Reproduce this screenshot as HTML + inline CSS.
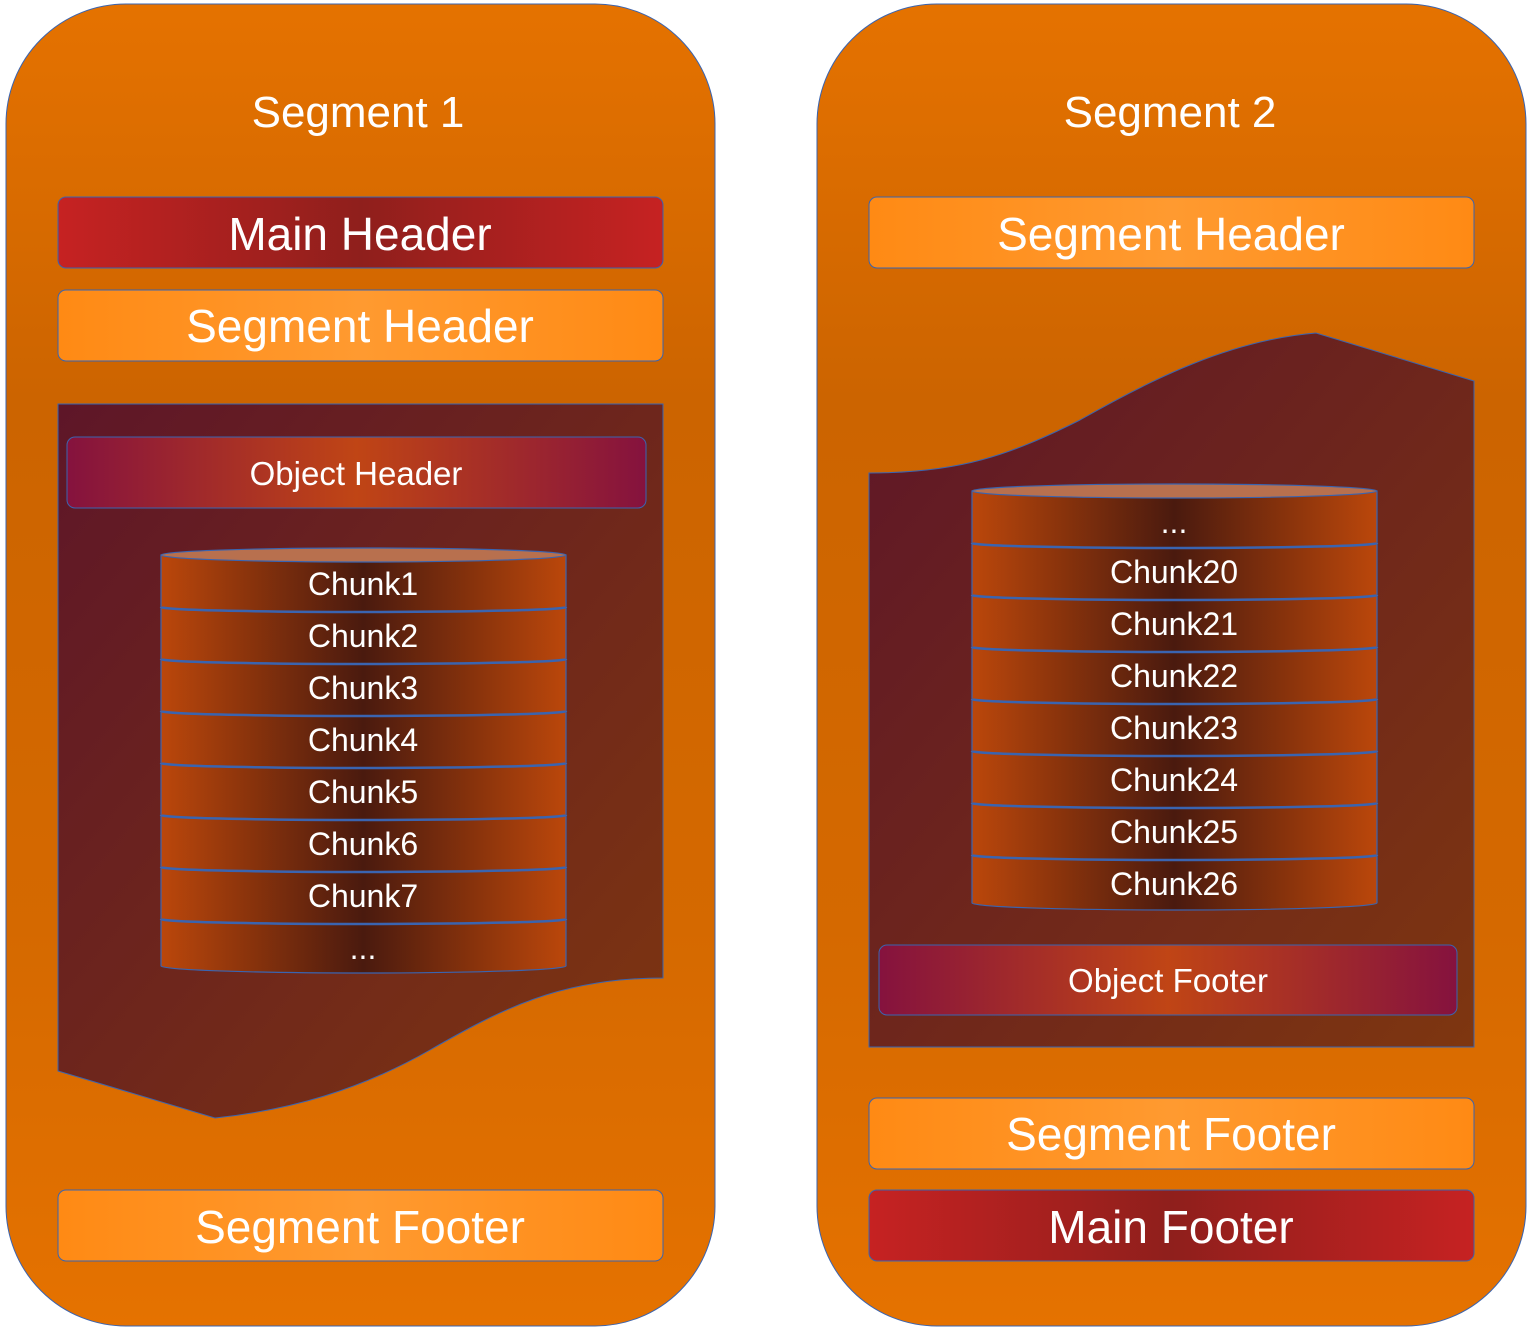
<!DOCTYPE html>
<html><head><meta charset="utf-8"><style>html,body{margin:0;padding:0;background:#fff}svg{display:block}text{font-family:"Liberation Sans","DejaVu Sans",sans-serif;fill:#fff;text-anchor:middle}</style></head>
<body>
<svg width="1531" height="1331" viewBox="0 0 1531 1331" xmlns="http://www.w3.org/2000/svg">
<defs>
<linearGradient id="seg" x1="0" y1="0" x2="0" y2="1"><stop offset="0" stop-color="#e57200"/><stop offset="0.3" stop-color="#cc6400"/><stop offset="0.7" stop-color="#d56900"/><stop offset="1" stop-color="#e57200"/></linearGradient>
<linearGradient id="mh" x1="0" x2="1"><stop offset="0" stop-color="#c62222"/><stop offset="0.5" stop-color="#8f1f1c"/><stop offset="1" stop-color="#c62222"/></linearGradient>
<linearGradient id="sh" x1="0" x2="1"><stop offset="0" stop-color="#ff8a14"/><stop offset="0.5" stop-color="#ff9a30"/><stop offset="1" stop-color="#ff8a14"/></linearGradient>
<linearGradient id="dk" x1="0" y1="0" x2="1" y2="1"><stop offset="0" stop-color="#5e1628"/><stop offset="1" stop-color="#7e3610"/></linearGradient>
<linearGradient id="oh" x1="0" x2="1"><stop offset="0" stop-color="#85123e"/><stop offset="0.5" stop-color="#c04515"/><stop offset="1" stop-color="#85123e"/></linearGradient>
<linearGradient id="cy" x1="0" x2="1"><stop offset="0" stop-color="#bb470b"/><stop offset="0.5" stop-color="#4a1a0e"/><stop offset="1" stop-color="#bb470b"/></linearGradient>
</defs>
<g stroke="#3a64b0" stroke-width="1">
<rect x="6" y="4" width="709" height="1322" rx="120" fill="url(#seg)"/>
<rect x="817" y="4" width="709" height="1322" rx="120" fill="url(#seg)"/>
<rect x="58" y="197" width="605" height="71" rx="8" fill="url(#mh)"/>
<rect x="58" y="290" width="605" height="71" rx="8" fill="url(#sh)"/>
<path d="M58 404 H663 V978 C560 978 500 1010 430 1050 C360 1090 290 1110 215 1118 L58 1071 Z" fill="url(#dk)"/>
<rect x="67" y="437" width="579" height="71" rx="8" fill="url(#oh)"/>
<rect x="58" y="1190" width="605" height="71" rx="8" fill="url(#sh)"/>
<rect x="869" y="197" width="605" height="71" rx="8" fill="url(#sh)"/>
<path d="M869 473 C960 473 1010 455 1080 420 C1150 380 1230 340 1316 333 L1474 381 V1047 H869 Z" fill="url(#dk)"/>
<rect x="879" y="945" width="578" height="70" rx="8" fill="url(#oh)"/>
<rect x="869" y="1098" width="605" height="71" rx="8" fill="url(#sh)"/>
<rect x="869" y="1190" width="605" height="71" rx="8" fill="url(#mh)"/>
</g>
<!-- cylinder 1 -->
<g stroke="#3a64b0" stroke-width="1.2">
<path d="M161 555 V966 A202.5 7 0 0 0 566 966 V555 Z" fill="url(#cy)"/>
<ellipse cx="363.5" cy="555" rx="202.5" ry="7" fill="#b8704e"/>
<g fill="none" stroke-width="2.5">
<path d="M161 607 A202.5 5 0 0 0 566 607"/><path d="M161 659 A202.5 5 0 0 0 566 659"/><path d="M161 711 A202.5 5 0 0 0 566 711"/><path d="M161 763 A202.5 5 0 0 0 566 763"/><path d="M161 815 A202.5 5 0 0 0 566 815"/><path d="M161 867 A202.5 5 0 0 0 566 867"/><path d="M161 919 A202.5 5 0 0 0 566 919"/>
</g>
</g>
<!-- cylinder 2 -->
<g stroke="#3a64b0" stroke-width="1.2">
<path d="M972 491 V903 A202.5 7 0 0 0 1377 903 V491 Z" fill="url(#cy)"/>
<ellipse cx="1174.5" cy="491" rx="202.5" ry="7" fill="#b8704e"/>
<g fill="none" stroke-width="2.5">
<path d="M972 543 A202.5 5 0 0 0 1377 543"/><path d="M972 595 A202.5 5 0 0 0 1377 595"/><path d="M972 647 A202.5 5 0 0 0 1377 647"/><path d="M972 699 A202.5 5 0 0 0 1377 699"/><path d="M972 751 A202.5 5 0 0 0 1377 751"/><path d="M972 803 A202.5 5 0 0 0 1377 803"/><path d="M972 855 A202.5 5 0 0 0 1377 855"/>
</g>
</g>
<g font-size="44"><text x="358" y="127">Segment 1</text><text x="1170" y="127">Segment 2</text></g>
<g font-size="46">
<text x="360" y="250">Main Header</text>
<text x="360" y="342">Segment Header</text>
<text x="360" y="1243">Segment Footer</text>
<text x="1171" y="250">Segment Header</text>
<text x="1171" y="1150">Segment Footer</text>
<text x="1171" y="1243">Main Footer</text>
</g>
<g font-size="33"><text x="356" y="485">Object Header</text><text x="1168" y="992">Object Footer</text></g>
<g font-size="32">
<text x="363" y="595">Chunk1</text><text x="363" y="647">Chunk2</text><text x="363" y="699">Chunk3</text><text x="363" y="751">Chunk4</text><text x="363" y="803">Chunk5</text><text x="363" y="855">Chunk6</text><text x="363" y="907">Chunk7</text><text x="363" y="959">...</text>
<text x="1174" y="533">...</text><text x="1174" y="583">Chunk20</text><text x="1174" y="635">Chunk21</text><text x="1174" y="687">Chunk22</text><text x="1174" y="739">Chunk23</text><text x="1174" y="791">Chunk24</text><text x="1174" y="843">Chunk25</text><text x="1174" y="895">Chunk26</text>
</g>
</svg>
</body></html>
